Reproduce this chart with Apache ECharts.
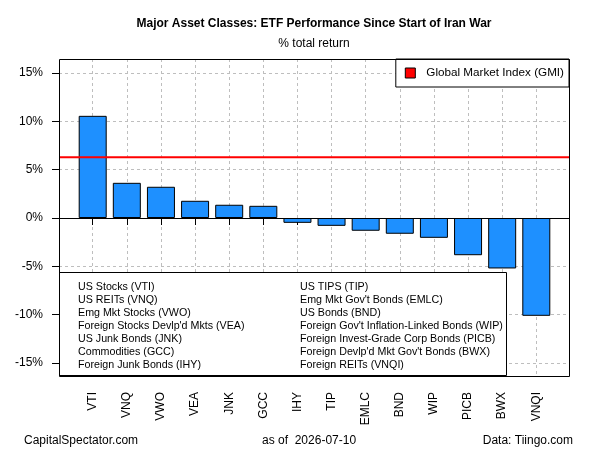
<!DOCTYPE html>
<html>
<head>
<meta charset="utf-8">
<script src="https://cdn.jsdelivr.net/npm/echarts@6/dist/echarts.min.js"></script>
<style>
  html, body { margin: 0; padding: 0; background: #fff; }
  #chart { width: 600px; height: 450px; }
</style>
</head>
<body>
<div id="chart"></div>
<script>
// ETF tickers and % total return since start of Iran war
var tickers = ['VTI', 'VNQ', 'VWO', 'VEA', 'JNK', 'GCC', 'IHY', 'TIP', 'EMLC', 'BND', 'WIP', 'PICB', 'BWX', 'VNQI'];
var returns = [10.57, 3.64, 3.23, 1.78, 1.37, 1.26, -0.50, -0.81, -1.32, -1.63, -2.05, -3.85, -5.22, -10.12];
var gmiReturn = 6.29;
var gmiName = 'Global Market Index (GMI)';

var legendLeft = ['US Stocks (VTI)', 'US REITs (VNQ)', 'Emg Mkt Stocks (VWO)', "Foreign Stocks Devlp'd Mkts (VEA)",
    'US Junk Bonds (JNK)', 'Commodities (GCC)', 'Foreign Junk Bonds (IHY)'];
var legendRight = ['US TIPS (TIP)', "Emg Mkt Gov't Bonds (EMLC)", 'US Bonds (BND)', "Foreign Gov't Inflation-Linked Bonds (WIP)",
    'Foreign Invest-Grade Corp Bonds (PICB)', "Foreign Devlp'd Mkt Gov't Bonds (BWX)", 'Foreign REITs (VNQI)'];

var FONT = 'Liberation Sans, Arial, sans-serif';

function txt(t, x, y, align, font) {
    return {
        type: 'text', x: x, y: y, z: 101,
        style: { text: t, font: font || ('12px ' + FONT), fill: '#000', textAlign: align, textVerticalAlign: 'middle' }
    };
}

function initChart() {
    var chartDom = document.getElementById('chart');
    var myChart = echarts.init(chartDom, null, { renderer: 'canvas' });

    // legend box at the bottom-left of the plot
    var boxItems = [{
        type: 'rect',
        shape: { x: 59.5, y: 272.5, width: 447, height: 103 },
        style: { fill: '#fff', stroke: '#000', lineWidth: 1 },
        z: 100
    }];
    legendLeft.forEach(function (t, i) {
        boxItems.push(txt(t, 78, 287 + i * 13, 'left', '10.7px ' + FONT));
    });
    legendRight.forEach(function (t, i) {
        boxItems.push(txt(t, 300, 287 + i * 13, 'left', '10.7px ' + FONT));
    });

    // titles and footer (centred over the plot area, like the original)
    var texts = [
        txt('Major Asset Classes: ETF Performance Since Start of Iran War', 314, 24, 'center', 'bold 12px ' + FONT),
        txt('% total return', 314, 44, 'center'),
        txt('CapitalSpectator.com', 24, 441, 'left'),
        txt('as of  2026-07-10', 262, 441, 'left'),
        txt('Data: Tiingo.com', 573, 441, 'right')
    ];

    var option = {
        animation: false,
        backgroundColor: '#fff',
        textStyle: { fontFamily: FONT },
        legend: {
            data: [{ name: gmiName, icon: 'rect' }],
            right: 31, top: 59,
            padding: [8, 5, 8, 9],
            itemWidth: 10, itemHeight: 10,
            itemStyle: { color: '#ff0000', borderColor: '#000', borderWidth: 1 },
            backgroundColor: '#fff',
            borderColor: '#000', borderWidth: 1, borderRadius: 0,
            textStyle: { fontSize: 11.7, color: '#000', fontFamily: FONT, padding: [0, 0, 0, 6] },
            selectedMode: false,
            z: 50
        },
        grid: [
            // frame / horizontal reference grid
            { left: 59, right: 31, top: 73, height: 290 },
            // bars
            { left: 92.7, right: 63.7, top: 59, height: 318 }
        ],
        xAxis: [
            { gridIndex: 0, type: 'value', min: 0, max: 1, show: false },
            {
                gridIndex: 1, type: 'category', data: tickers, boundaryGap: false,
                axisLine: { show: false },
                axisTick: { show: true, length: 7, lineStyle: { color: '#000' } },
                axisLabel: { rotate: 90, margin: 15, fontSize: 12, color: '#000', fontFamily: FONT, interval: 0 },
                splitLine: { show: true, lineStyle: { color: '#bebebe', type: [3, 3], width: 1 } }
            }
        ],
        yAxis: [
            {
                gridIndex: 0, type: 'value', min: -15, max: 15, interval: 5,
                axisLine: { show: false },
                axisTick: { show: true, length: 7, lineStyle: { color: '#000' } },
                axisLabel: { formatter: '{value}%', margin: 16, fontSize: 12, color: '#000', fontFamily: FONT },
                splitLine: { show: true, lineStyle: { color: '#bebebe', type: [3, 3], width: 1 } }
            },
            { gridIndex: 1, type: 'value', min: -16.45, max: 16.45, show: false }
        ],
        series: [
            {
                type: 'bar', xAxisIndex: 1, yAxisIndex: 1,
                data: returns,
                barWidth: 28,
                clip: false,
                itemStyle: { color: '#1e90ff', borderColor: '#000', borderWidth: 1 }
            },
            {
                name: gmiName, type: 'line', xAxisIndex: 0, yAxisIndex: 0,
                data: [[0, gmiReturn], [1, gmiReturn]],
                symbol: 'none',
                lineStyle: { color: '#ff0000', width: 2 },
                itemStyle: { color: '#ff0000' },
                z: 5,
                markLine: {
                    silent: true, symbol: 'none', label: { show: false },
                    lineStyle: { color: '#000', type: 'solid', width: 1 },
                    data: [{ yAxis: 0 }]
                }
            }
        ],
        graphic: [
            {
                type: 'rect', shape: { x: 59.5, y: 59.5, width: 510, height: 317 },
                style: { fill: 'none', stroke: '#000', lineWidth: 1 }, z: 102
            },
            { type: 'group', children: boxItems, z: 100 },
            { type: 'group', children: texts, z: 100 }
        ]
    };

    myChart.setOption(option);

    window.addEventListener('resize', function () {
        myChart.resize();
    });
}

document.addEventListener('DOMContentLoaded', initChart);
</script>
</body>
</html>
